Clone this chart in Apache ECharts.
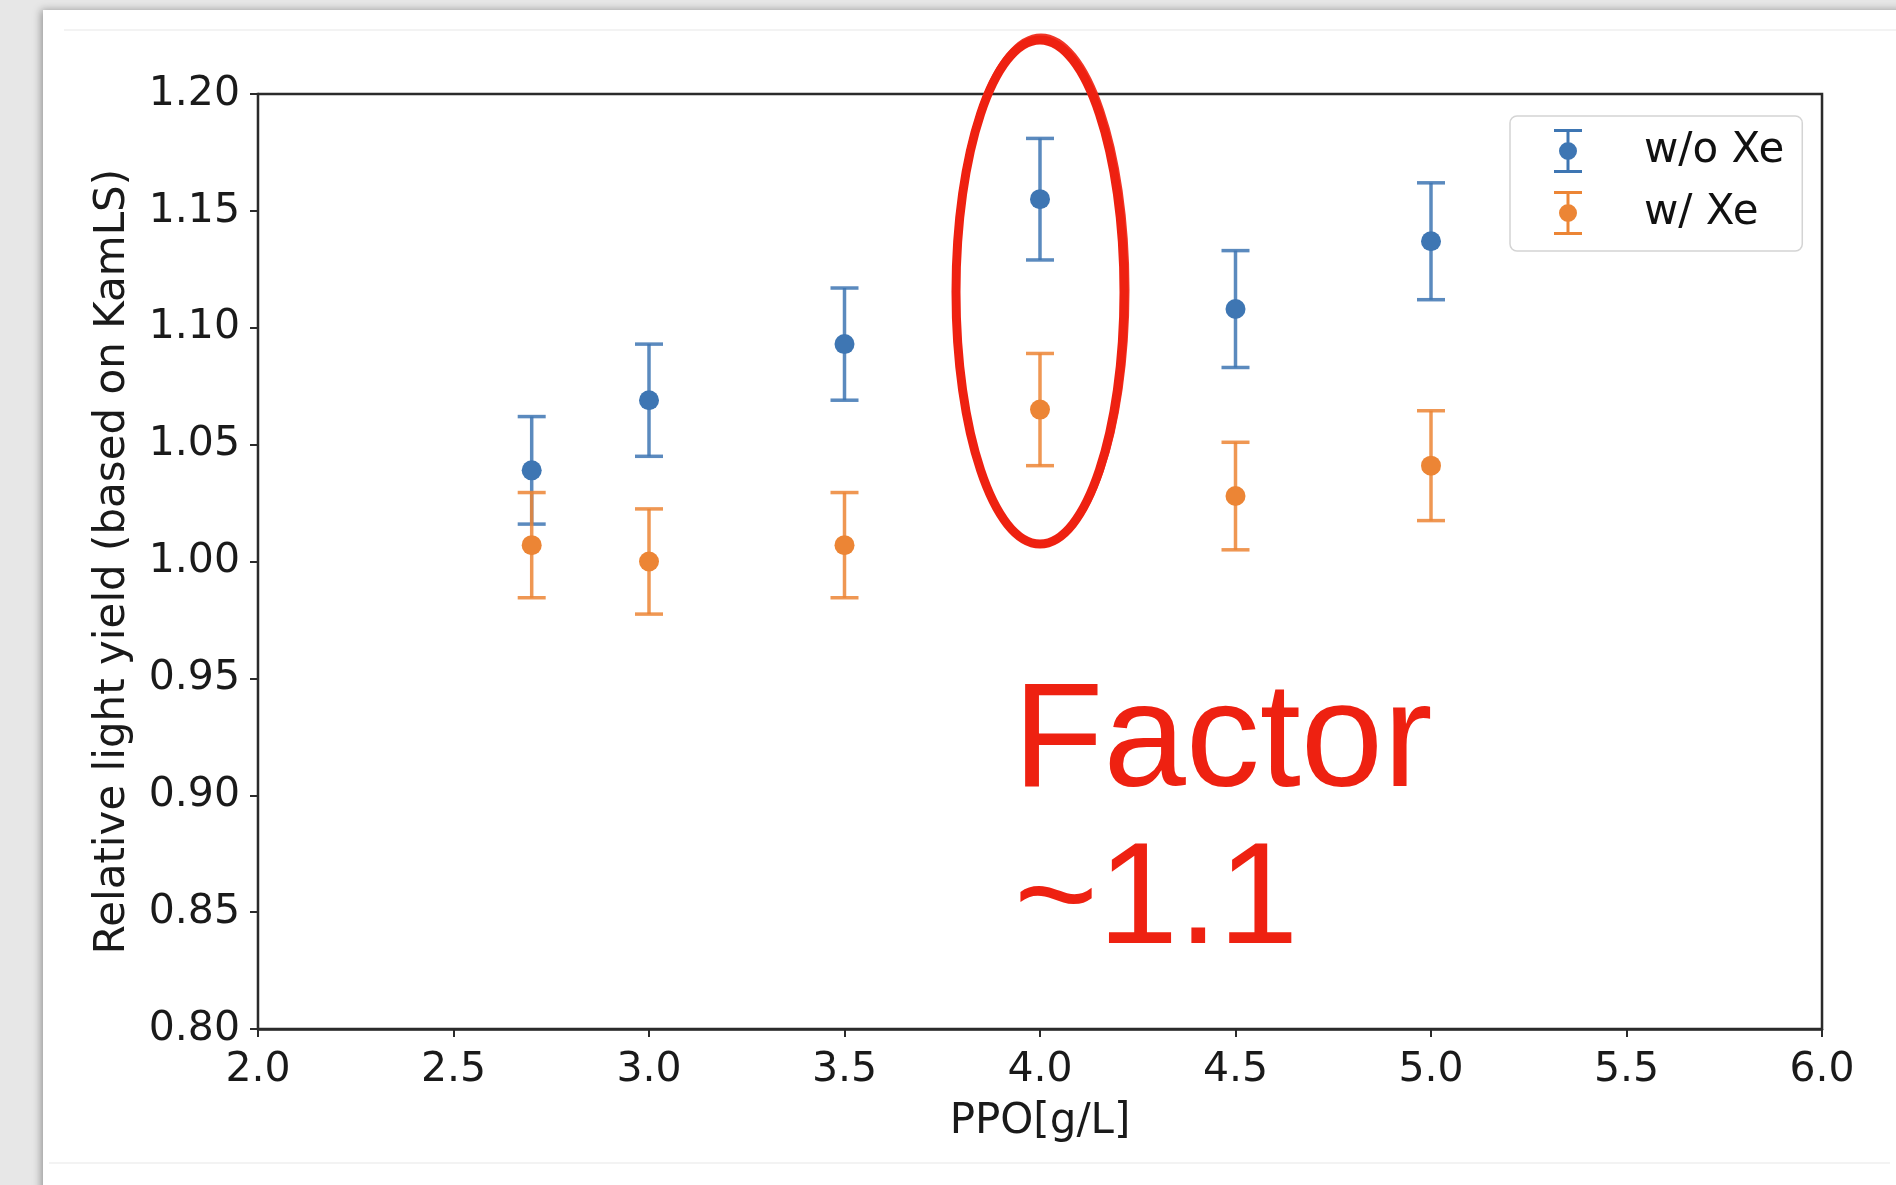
<!DOCTYPE html>
<html>
<head>
<meta charset="utf-8">
<script src="https://cdn.jsdelivr.net/npm/echarts@6/dist/echarts.min.js"></script>
<style>
  html, body { margin: 0; padding: 0; background: #e7e7e7; }
  #chart { width: 1896px; height: 1185px; }
</style>
</head>
<body>
<div id="chart"></div>
<script>
// PPO concentration [g/L]
const ppo = [2.7, 3.0, 3.5, 4.0, 4.5, 5.0];
// Relative light yield without Xe, with 1-sigma errors
const yieldNoXe = [1.039, 1.069, 1.093, 1.155, 1.108, 1.137];
const errNoXe   = [0.023, 0.024, 0.024, 0.026, 0.025, 0.025];
// Relative light yield with Xe, with 1-sigma errors
const yieldXe = [1.007, 1.000, 1.007, 1.065, 1.028, 1.041];
const errXe   = [0.0225, 0.0225, 0.0225, 0.024, 0.023, 0.0235];

const seriesNames = ['w/o Xe', 'w/ Xe'];
const seriesColors = ['#3e76b3', '#ec8535'];
const annotationLines = ['Factor', '~1.1'];

const FONT = '"DejaVu Sans", sans-serif';

function rows(xs, ys, es) {
  return xs.map((x, i) => [x, ys[i], es[i]]);
}

// Error bar with caps and a round marker at the central value
function renderErrorBar(params, api) {
  const x = api.value(0), y = api.value(1), e = api.value(2);
  const c = api.coord([x, y]);
  const hi = api.coord([x, y + e]);
  const lo = api.coord([x, y - e]);
  const color = api.visual('color');
  const cap = 14;
  const lineStyle = { stroke: color, lineWidth: 3.5, opacity: 0.85 };
  return {
    type: 'group',
    children: [
      { type: 'line', shape: { x1: c[0], y1: hi[1], x2: c[0], y2: lo[1] }, style: lineStyle },
      { type: 'line', shape: { x1: c[0] - cap, y1: hi[1], x2: c[0] + cap, y2: hi[1] }, style: lineStyle },
      { type: 'line', shape: { x1: c[0] - cap, y1: lo[1], x2: c[0] + cap, y2: lo[1] }, style: lineStyle },
      { type: 'circle', shape: { cx: c[0], cy: c[1], r: 10 }, style: { fill: color } }
    ]
  };
}

// Legend glyph: capped error bar with a dot (all sub-paths clockwise)
const errIcon = 'path://M0,0 h28 v3 h-28 z M0,41 h28 v3 h-28 z M12.5,0 h3 v44 h-3 z ' +
                'M5,22 a9,9 0 1 1 18,0 a9,9 0 1 1 -18,0 z';

const chart = echarts.init(document.getElementById('chart'), null, { renderer: 'canvas' });

const option = {
  backgroundColor: '#e7e7e7',
  animation: false,
  textStyle: { fontFamily: FONT },
  grid: {
    left: 258, right: 74, top: 94, bottom: 156,
    show: true, backgroundColor: '#ffffff',
    borderColor: '#2b2b2b', borderWidth: 2.5, z: 1
  },
  xAxis: {
    type: 'value', min: 2.0, max: 6.0, interval: 0.5,
    name: 'PPO[g/L]', nameLocation: 'middle', nameGap: 72,
    nameTextStyle: { fontSize: 42, color: '#1a1a1a', fontFamily: FONT },
    axisLine: { show: true, lineStyle: { color: '#2b2b2b', width: 2.5 } },
    axisTick: { show: true, length: 8, lineStyle: { color: '#2b2b2b', width: 2 } },
    axisLabel: { fontSize: 41, color: '#1a1a1a', margin: 21, fontFamily: FONT,
                 formatter: v => v.toFixed(1) },
    splitLine: { show: true, lineStyle: { color: '#c4c4c4', width: 2.2 } }
  },
  yAxis: {
    type: 'value', min: 0.80, max: 1.20, interval: 0.05,
    name: 'Relative light yield (based on KamLS)', nameLocation: 'middle', nameGap: 124,
    nameRotate: 90,
    nameTextStyle: { fontSize: 42, color: '#1a1a1a', fontFamily: FONT },
    axisLine: { show: true, lineStyle: { color: '#2b2b2b', width: 2.5 } },
    axisTick: { show: true, length: 8, lineStyle: { color: '#2b2b2b', width: 2 } },
    axisLabel: { fontSize: 41, color: '#1a1a1a', margin: 18, fontFamily: FONT,
                 padding: [5, 0, 0, 0], formatter: v => v.toFixed(2) },
    splitLine: { show: true, lineStyle: { color: '#c4c4c4', width: 2.2 } }
  },
  legend: {
    left: 1510, top: 116, orient: 'vertical',
    itemWidth: 28, itemHeight: 44, itemGap: 18,
    padding: [13, 18, 16, 44],
    backgroundColor: 'rgba(255,255,255,0.8)',
    borderColor: '#d4d4d4', borderWidth: 1.5, borderRadius: 7,
    textStyle: { fontSize: 42, color: '#111', fontFamily: FONT, padding: [0, 0, 0, 57],
                 lineHeight: 42, height: 44, verticalAlign: 'bottom' },
    data: seriesNames.map(n => ({ name: n, icon: errIcon })),
    selectedMode: false
  },
  series: [
    {
      name: seriesNames[0], type: 'custom', renderItem: renderErrorBar,
      itemStyle: { color: seriesColors[0] },
      encode: { x: 0, y: 1 }, data: rows(ppo, yieldNoXe, errNoXe), z: 3
    },
    {
      name: seriesNames[1], type: 'custom', renderItem: renderErrorBar,
      itemStyle: { color: seriesColors[1] },
      encode: { x: 0, y: 1 }, data: rows(ppo, yieldXe, errXe), z: 4
    }
  ],
  graphic: [
    // slide card behind the plot
    {
      type: 'rect', z: -10, silent: true,
      shape: { x: 43, y: 10, width: 1900, height: 1200 },
      style: { fill: '#ffffff', shadowBlur: 8, shadowColor: 'rgba(0,0,0,0.35)', shadowOffsetX: -2 }
    },
    { type: 'line', z: -9, silent: true, shape: { x1: 64, y1: 30, x2: 1896, y2: 30 },
      style: { stroke: '#efefef', lineWidth: 1.5 } },
    { type: 'line', z: -9, silent: true, shape: { x1: 49, y1: 1163, x2: 1890, y2: 1163 },
      style: { stroke: '#efefef', lineWidth: 1.5 } },
    // hand-drawn highlight around the 4.0 g/L points
    {
      type: 'ellipse', z: 50, silent: true,
      shape: { cx: 1040, cy: 292, rx: 84, ry: 252 },
      style: { fill: 'none', stroke: '#ee2111', lineWidth: 9 }
    },
    {
      type: 'ellipse', z: 50, silent: true,
      shape: { cx: 1041, cy: 290, rx: 87, ry: 255 },
      style: { fill: 'none', stroke: '#ee2111', lineWidth: 3, opacity: 0.9 }
    },
    {
      type: 'text', z: 50, silent: true,
      style: { x: 1013, y: 745, text: annotationLines[0], fill: '#ee2111',
               font: '148px "Liberation Sans", Arial, sans-serif', verticalAlign: 'middle' }
    },
    {
      type: 'text', z: 50, silent: true,
      style: { x: 1014, y: 903, text: annotationLines[1], fill: '#ee2111',
               font: '144px "Liberation Sans", Arial, sans-serif', verticalAlign: 'middle' }
    }
  ]
};

chart.setOption(option);
</script>
</body>
</html>
